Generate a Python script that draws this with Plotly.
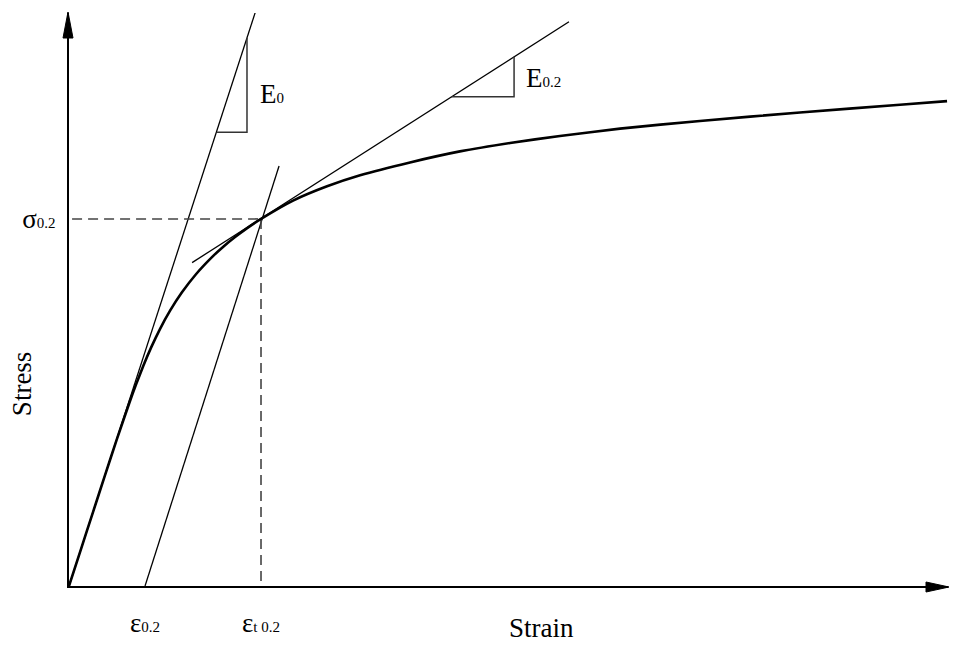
import plotly.graph_objects as go

# Normalised stress-strain curve (strain / eps_t0.2, stress / sigma_0.2)
strain_curve = [0, 0.0621, 0.1242, 0.1864, 0.2494, 0.3150, 0.3499, 0.3872, 0.4280,
                0.4737, 0.5264, 0.5883, 0.6624, 0.7526, 0.8050, 0.8632, 0.9279,
                1.0, 1.167, 1.344, 1.516, 1.776, 2.036, 2.297, 2.557, 2.87,
                3.286, 3.807, 4.328, 4.573]
stress_curve = [0, 0.1, 0.2, 0.3, 0.4, 0.5, 0.55, 0.6, 0.65,
                0.7, 0.75, 0.8, 0.85, 0.9, 0.925, 0.95, 0.975,
                1.0, 1.050, 1.089, 1.119, 1.154, 1.184, 1.207, 1.226, 1.246,
                1.267, 1.290, 1.311, 1.321]

# Initial modulus E0 line
e0_strain = [0, 0.974]
e0_stress = [0, 1.569]

# 0.2% offset line (parallel to E0)
offset_strain = [0.396, 1.094]
offset_stress = [0, 1.144]

# Tangent modulus E0.2 at the proof stress
et_strain = [0.641, 2.604]
et_stress = [0.881, 1.537]

# Slope triangles
tri_e0_strain = [0.771, 0.927, 0.927]
tri_e0_stress = [1.236, 1.236, 1.493]
tri_et_strain = [1.990, 2.318, 2.318]
tri_et_stress = [1.333, 1.333, 1.442]

# Proof-stress point
eps_02 = 0.396
eps_t02 = 1.0
sigma_02 = 1.0
dash_h_strain = [0.016, 1.0]

x_max = 4.578
y_max = 1.561

FONT = "Liberation Serif"
SUB = "<span style='font-size:15px'>{}</span>"

fig = go.Figure()

thin = dict(color="black", width=1.3)
fig.add_trace(go.Scatter(x=e0_strain, y=e0_stress, mode="lines", line=thin))
fig.add_trace(go.Scatter(x=offset_strain, y=offset_stress, mode="lines", line=thin))
fig.add_trace(go.Scatter(x=et_strain, y=et_stress, mode="lines", line=thin))
fig.add_trace(go.Scatter(x=tri_e0_strain, y=tri_e0_stress, mode="lines",
                         line=dict(color="#333333", width=1.5)))
fig.add_trace(go.Scatter(x=tri_et_strain, y=tri_et_stress, mode="lines",
                         line=dict(color="#333333", width=1.5)))

dash = dict(color="#444444", width=1.6, dash="10px,6px")
fig.add_trace(go.Scatter(x=dash_h_strain, y=[sigma_02, sigma_02], mode="lines", line=dash))
fig.add_trace(go.Scatter(x=[eps_t02, eps_t02], y=[sigma_02, 0], mode="lines", line=dash))

fig.add_trace(go.Scatter(x=strain_curve, y=stress_curve, mode="lines",
                         line=dict(color="black", width=2.6, shape="spline", smoothing=0.5)))

text_font = dict(family=FONT, size=27, color="black")

fig.add_annotation(x=0.984, y=1.339, xref="x", yref="y", showarrow=False,
                   xanchor="left", yanchor="middle",
                   text="E" + SUB.format("0"), font=text_font)
fig.add_annotation(x=2.37, y=1.385, xref="x", yref="y", showarrow=False,
                   xanchor="left", yanchor="middle",
                   text="E" + SUB.format("0.2"), font=text_font)
fig.add_annotation(x=-0.0535, y=0.354, xref="paper", yref="paper", showarrow=False,
                   xanchor="center", yanchor="middle", textangle=-90,
                   text="Stress", font=text_font)
fig.add_annotation(x=0.537, y=-0.073, xref="paper", yref="paper", showarrow=False,
                   xanchor="center", yanchor="middle",
                   text="Strain", font=text_font)

# Arrowheads at the ends of both axes
fig.add_shape(type="path", xref="paper", yref="paper", xsizemode="pixel", ysizemode="pixel",
              xanchor=1, yanchor=0, path="M1,-1 L-22,4 L-22,-6 Z",
              fillcolor="black", line=dict(color="black", width=1))
fig.add_shape(type="path", xref="paper", yref="paper", xsizemode="pixel", ysizemode="pixel",
              xanchor=0, yanchor=1, path="M-1,1 L-6,-25 L4,-25 Z",
              fillcolor="black", line=dict(color="black", width=1))

fig.update_xaxes(range=[0, x_max], showgrid=False, zeroline=False,
                 showline=True, linecolor="black", linewidth=2,
                 ticks="", tickvals=[eps_02, eps_t02],
                 ticktext=["ε" + SUB.format("0.2"), "ε" + SUB.format("t 0.2")],
                 tickfont=text_font, ticklabelstandoff=12)
fig.update_yaxes(range=[0, y_max], showgrid=False, zeroline=False,
                 showline=True, linecolor="black", linewidth=2,
                 ticks="", tickvals=[sigma_02],
                 ticktext=["σ" + SUB.format("0.2")],
                 tickfont=text_font, ticklabelstandoff=6)

fig.update_layout(width=963, height=650, autosize=False,
                  margin=dict(l=69, r=15, t=13, b=61),
                  paper_bgcolor="white", plot_bgcolor="white",
                  showlegend=False)

fig.write_html("out.html")
